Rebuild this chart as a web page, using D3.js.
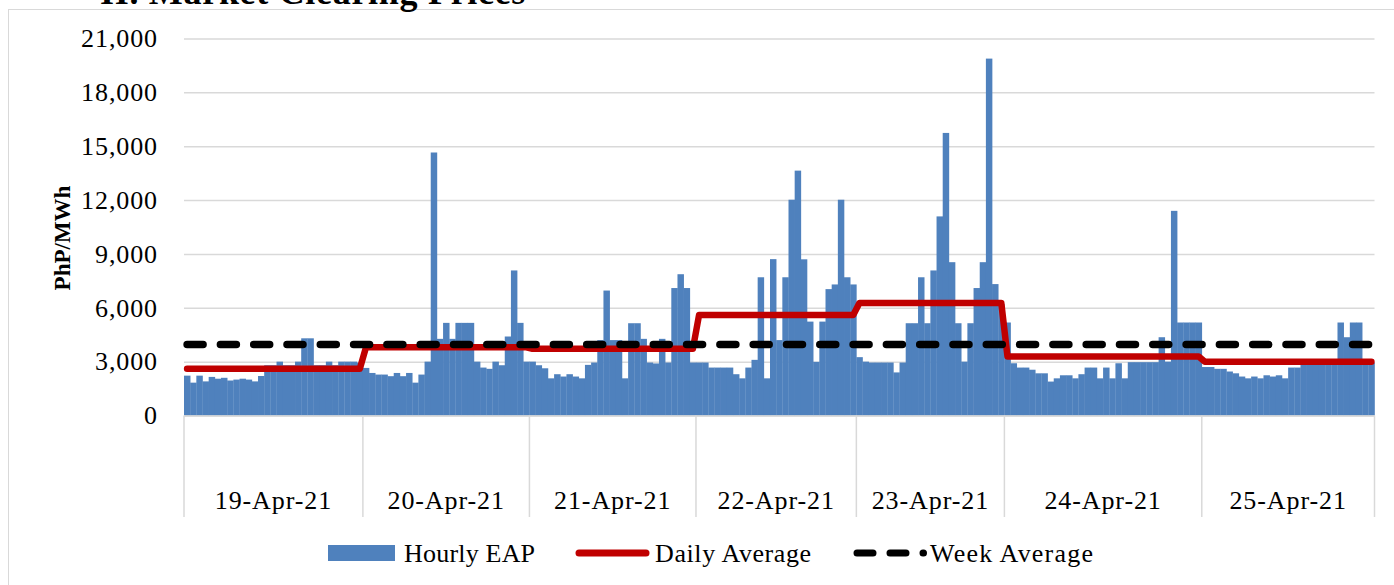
<!DOCTYPE html>
<html lang="en">
<head>
    <meta charset="UTF-8">
    <title>Market Clearing Prices</title>
    <script src="https://d3js.org/d3.v7.min.js"></script>
    <style>
        body {
            margin: 0;
            background: #ffffff;
            font-family: "Liberation Serif", serif;
        }
        svg text {
            fill: #000000;
        }
    </style>
</head>
<body>
    <div id="chart"></div>
    <script>
        // day labels and hourly EAP values (PhP/MWh), one array per day
        const dayLabels = ['19-Apr-21', '20-Apr-21', '21-Apr-21', '22-Apr-21', '23-Apr-21', '24-Apr-21', '25-Apr-21'];

        const eap19 = [2220, 1830, 2220, 1900, 2150, 2050, 2100, 1950, 2000, 2050, 2000, 1900, 2200, 2800, 2800,
            3000, 2800, 2800, 3000, 4300, 4300, 2800, 2800, 3000, 2800, 3000, 3000, 3000, 2950];
        const eap20 = [2650, 2370, 2280, 2280, 2190, 2370, 2190, 2370, 1830, 2280, 3000, 14650, 4270, 5160,
            4270, 5160, 5160, 5160, 3000, 2670, 2600, 3000, 2800, 4400, 8080, 5160, 3000];
        const eap21 = [3000, 2800, 2630, 2070, 2300, 2170, 2300, 2170, 2070, 2820, 2950, 4200, 6960, 4200,
            4200, 2070, 5140, 5140, 4270, 2950, 2900, 4270, 2950, 7100, 7870, 7100, 2950];
        const eap22 = [2950, 2950, 2670, 2670, 2670, 2670, 2300, 2070, 2670, 3100, 7700, 2070, 8710, 4200,
            7700, 12020, 13640, 8700, 5230, 2990, 5230, 7040, 7300, 12020, 7700, 7300];
        const eap23 = [3250, 3000, 2950, 2950, 2950, 2950, 2400, 2950, 5140, 5140, 7700, 5140, 8080, 11090,
            15740, 8540, 5140, 3000, 5140, 7100, 8540, 19880, 7320, 6200];
        const eap24 = [5180, 2910, 2670, 2670, 2550, 2350, 2350, 1890, 2070, 2240, 2240, 2070, 2300, 2670,
            2670, 2070, 2670, 2070, 2910, 2070, 2970, 2970, 2970, 2970, 2970, 4360, 3000, 11400, 5180, 5180,
            5180, 5180];
        const eap25 = [2700, 2700, 2600, 2600, 2450, 2350, 2170, 2070, 2170, 2070, 2240, 2170, 2240, 2070,
            2670, 2670, 2900, 2900, 2900, 2900, 2900, 3100, 5180, 4360, 5180, 5180, 2950, 2950];

        const dailyAverage = [2600, 3800, 3720, 5600, 6260, 3290, 3000];
        const weekAverage = 3950;
        const yTicks = [0, 3000, 6000, 9000, 12000, 15000, 18000, 21000];

        const days = [eap19, eap20, eap21, eap22, eap23, eap24, eap25];

        const width = 1394;
        const height = 585;
        const plot = { left: 184, right: 1374.5, top: 38.5, bottom: 415.5 };

        // flatten into one hourly series, keeping which day each bar belongs to
        const hourly = [];
        days.forEach((values, di) => {
            values.forEach(v => hourly.push({ idx: hourly.length, day: di, value: v }));
        });

        const svg = d3.select('#chart')
            .append('svg')
            .attr('width', width)
            .attr('height', height);

        // chart area border
        svg.append('rect')
            .attr('x', 8.5)
            .attr('y', 9.5)
            .attr('width', 1400)
            .attr('height', 600)
            .attr('fill', 'none')
            .attr('stroke', '#d9d9d9')
            .attr('stroke-width', 1);

        // section heading, cut by the top of the page
        svg.append('text')
            .attr('x', 100)
            .attr('y', 4)
            .attr('font-size', 36)
            .attr('font-weight', 'bold')
            .attr('letter-spacing', 0.7)
            .text('II. Market Clearing Prices');

        const x = d3.scaleBand()
            .domain(hourly.map(d => d.idx))
            .range([plot.left, plot.right])
            .padding(0);

        const y = d3.scaleLinear()
            .domain([0, 21000])
            .range([plot.bottom, plot.top]);

        // gridlines and y labels
        const yAxis = svg.append('g')
            .attr('transform', `translate(${plot.left},0)`)
            .call(d3.axisLeft(y)
                .tickValues(yTicks)
                .tickSize(-(plot.right - plot.left))
                .tickPadding(26)
                .tickFormat(d3.format(',')));
        yAxis.select('.domain').remove();
        yAxis.selectAll('.tick line').attr('stroke', '#d9d9d9').attr('stroke-width', 1.5);
        yAxis.selectAll('.tick text')
            .attr('font-family', '"Liberation Serif", serif')
            .attr('font-size', 26)
            .attr('letter-spacing', 0.9)
            .attr('fill', '#000');

        // bars
        svg.append('g')
            .selectAll('rect')
            .data(hourly)
            .enter().append('rect')
            .attr('x', d => x(d.idx))
            .attr('y', d => y(d.value))
            .attr('width', x.bandwidth() + 0.3)
            .attr('height', d => y(0) - y(d.value))
            .attr('fill', '#4f81bd');

        // category axis: baseline, day separators, labels
        const dayStart = [];
        let count = 0;
        days.forEach(values => { dayStart.push(count); count += values.length; });
        const boundaryX = dayStart.map(s => x(s)).concat([plot.right]);

        svg.append('line')
            .attr('x1', plot.left).attr('x2', plot.right)
            .attr('y1', y(0) + 0.5).attr('y2', y(0) + 0.5)
            .attr('stroke', '#d9d9d9').attr('stroke-width', 1.5);

        svg.append('g')
            .selectAll('line')
            .data(boundaryX)
            .enter().append('line')
            .attr('x1', d => d).attr('x2', d => d)
            .attr('y1', y(0)).attr('y2', 517)
            .attr('stroke', '#d9d9d9').attr('stroke-width', 1.5);

        svg.append('g')
            .selectAll('text')
            .data(dayLabels)
            .enter().append('text')
            .attr('x', (d, i) => (boundaryX[i] + boundaryX[i + 1]) / 2)
            .attr('y', 509)
            .attr('text-anchor', 'middle')
            .attr('font-size', 26)
            .attr('letter-spacing', 0.9)
            .text(d => d);

        // daily average line: one point per hour, value of its day
        const line = d3.line()
            .x(d => x(d.idx) + x.bandwidth() / 2)
            .y(d => y(d.v));

        svg.append('path')
            .datum(hourly.map(d => ({ idx: d.idx, v: dailyAverage[d.day] })))
            .attr('d', line)
            .attr('fill', 'none')
            .attr('stroke', '#c00000')
            .attr('stroke-width', 6.5)
            .attr('stroke-linejoin', 'round')
            .attr('stroke-linecap', 'round');

        // week average dashed line
        svg.append('path')
            .datum(hourly.map(d => ({ idx: d.idx, v: weekAverage })))
            .attr('d', line)
            .attr('fill', 'none')
            .attr('stroke', '#000')
            .attr('stroke-width', 7.5)
            .attr('stroke-dasharray', '16,17.3')
            .attr('stroke-linecap', 'round');

        // y axis title
        svg.append('text')
            .attr('transform', 'translate(70,238) rotate(-90)')
            .attr('text-anchor', 'middle')
            .attr('font-size', 23)
            .attr('font-weight', 'bold')
            .text('PhP/MWh');

        // legend
        const legend = svg.append('g').attr('font-size', 26).attr('letter-spacing', 0.8);
        legend.append('rect')
            .attr('x', 328).attr('y', 545)
            .attr('width', 67).attr('height', 16)
            .attr('fill', '#4f81bd');
        legend.append('text').attr('x', 404).attr('y', 562).attr('letter-spacing', 0.2).text('Hourly EAP');

        legend.append('line')
            .attr('x1', 579).attr('x2', 646)
            .attr('y1', 553).attr('y2', 553)
            .attr('stroke', '#c00000').attr('stroke-width', 7)
            .attr('stroke-linecap', 'round');
        legend.append('text').attr('x', 655).attr('y', 562).attr('letter-spacing', 0.6).text('Daily Average');

        legend.append('line')
            .attr('x1', 857).attr('x2', 923.5)
            .attr('y1', 553).attr('y2', 553)
            .attr('stroke', '#000').attr('stroke-width', 7)
            .attr('stroke-dasharray', '16,17')
            .attr('stroke-linecap', 'round');
        legend.append('text').attr('x', 930).attr('y', 562).attr('letter-spacing', 1.2).text('Week Average');
    </script>
</body>
</html>
